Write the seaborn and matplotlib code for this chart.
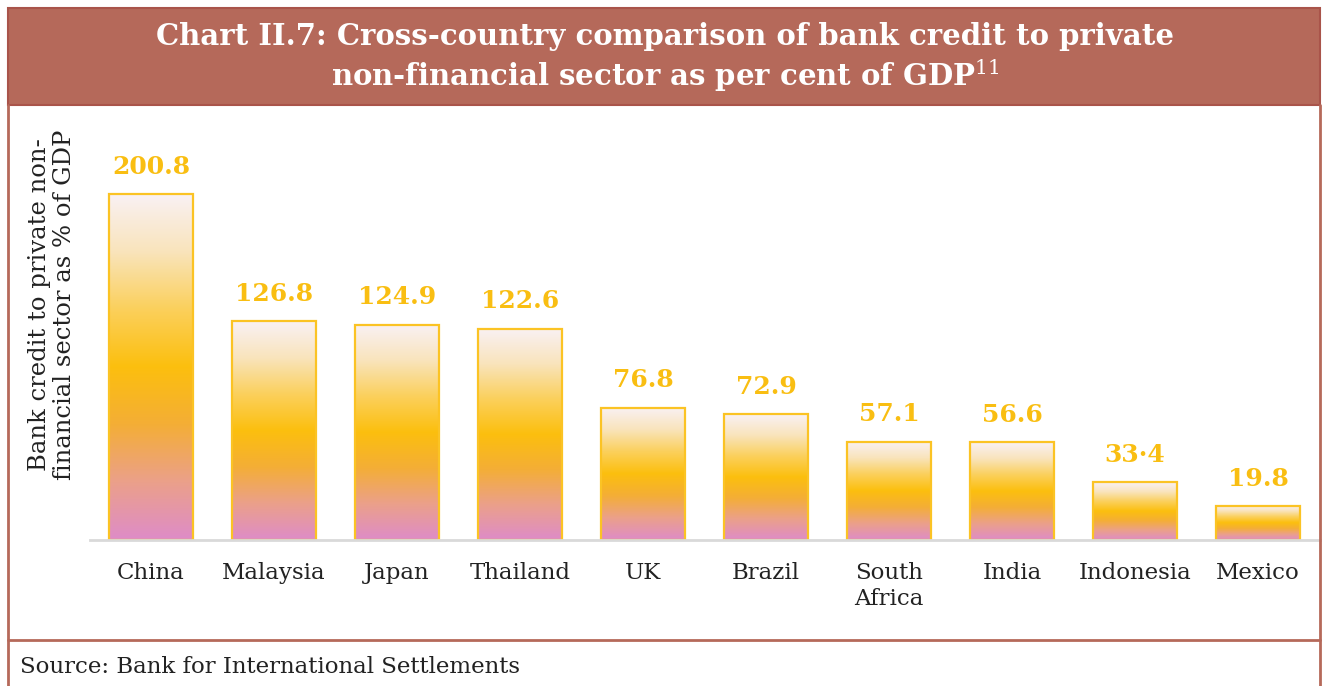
import numpy as np
import pandas as pd
import seaborn as sns
import matplotlib.pyplot as plt
from matplotlib.colors import LinearSegmentedColormap
from matplotlib.patches import Rectangle
from matplotlib.lines import Line2D

countries = ["China", "Malaysia", "Japan", "Thailand", "UK", "Brazil",
             "South\nAfrica", "India", "Indonesia", "Mexico"]
credit_gdp = [200.8, 126.8, 124.9, 122.6, 76.8, 72.9, 57.1, 56.6, 33.4, 19.8]
value_labels = ["200.8", "126.8", "124.9", "122.6", "76.8", "72.9",
                "57.1", "56.6", "33·4", "19.8"]

title = ("Chart II.7: Cross-country comparison of bank credit to private\n"
         "non-financial sector as per cent of GDP$^{11}$")
ylabel = "Bank credit to private non-\nfinancial sector as % of GDP"
source = "Source: Bank for International Settlements"

W, H = 1323, 686
frame_col = "#B5695A"
gold = "#F9BE12"

sns.set_theme(style="white")
plt.rcParams["font.family"] = ["DejaVu Serif"]
plt.rcParams["mathtext.fontset"] = "dejavuserif"

df = pd.DataFrame({"country": countries, "value": credit_gdp})

fig = plt.figure(figsize=(W / 100, H / 100), dpi=100)
fig.patch.set_facecolor("white")

# frame + title band
def fx(px):
    return px / W

def fy(py):
    return 1 - py / H

fig.patches.append(Rectangle((fx(8), fy(105)), fx(1320) - fx(8), fy(8) - fy(105),
                             transform=fig.transFigure, facecolor=frame_col,
                             edgecolor="#A9544A", linewidth=1.5))
for xs, ys in [([fx(8), fx(8)], [fy(105), 0]),
               ([fx(1320), fx(1320)], [fy(105), 0]),
               ([fx(8), fx(1320)], [fy(640), fy(640)])]:
    fig.lines.append(Line2D(xs, ys, transform=fig.transFigure,
                            color=frame_col, linewidth=2))

fig.text(fx(665), fy(58), title, ha="center", va="center", color="white",
         fontsize=21, fontweight="bold", linespacing=1.2)
fig.text(fx(20), fy(667), source, ha="left", va="center", color="#222222",
         fontsize=16.5)

ax = fig.add_axes([fx(89.5), fy(540), 1230 / W, 431 / H])
sns.barplot(data=df, x="country", y="value", ax=ax, width=0.675,
            color=gold, saturation=1)

cmap = LinearSegmentedColormap.from_list(
    "bar", ["#DE8CC8", "#EBA08A", "#F4AE36", "#FCBF0E", "#FBD05C",
            "#F9E4BC", "#FAF1F4"])
grad = np.linspace(0, 1, 256).reshape(-1, 1)

for patch, lab in zip(ax.patches, value_labels):
    x0, y0 = patch.get_x(), patch.get_y()
    w, h = patch.get_width(), patch.get_height()
    img = ax.imshow(grad, cmap=cmap, origin="lower", aspect="auto",
                    extent=[x0, x0 + w, y0, y0 + h], zorder=1)
    img.set_clip_path(patch)
    patch.set_facecolor("none")
    patch.set_edgecolor("#FBC324")
    patch.set_linewidth(1.6)
    patch.set_zorder(2)
    ax.annotate(lab, (x0 + w / 2, h), xytext=(0, 11), textcoords="offset points",
                ha="center", va="bottom", color=gold, fontsize=18,
                fontweight="bold")

ax.set_xlim(-0.5, len(countries) - 0.5)
ax.set_ylim(0, 250)
ax.set_xlabel("")
ax.set_ylabel("")
ax.set_yticks([])
ax.tick_params(axis="x", length=0, pad=16, labelsize=16.5, labelcolor="#222222")
for lbl in ax.get_xticklabels():
    lbl.set_linespacing(1.2)
for s in ["top", "left", "right"]:
    ax.spines[s].set_visible(False)
ax.spines["bottom"].set_color("#D9D9D9")
ax.spines["bottom"].set_linewidth(2)
ax.set_facecolor("none")

fig.text(fx(52), fy(305), ylabel, ha="center", va="center", rotation=90,
         color="#222222", fontsize=17.5, linespacing=1.15)

fig.savefig("out.png", dpi=100)
